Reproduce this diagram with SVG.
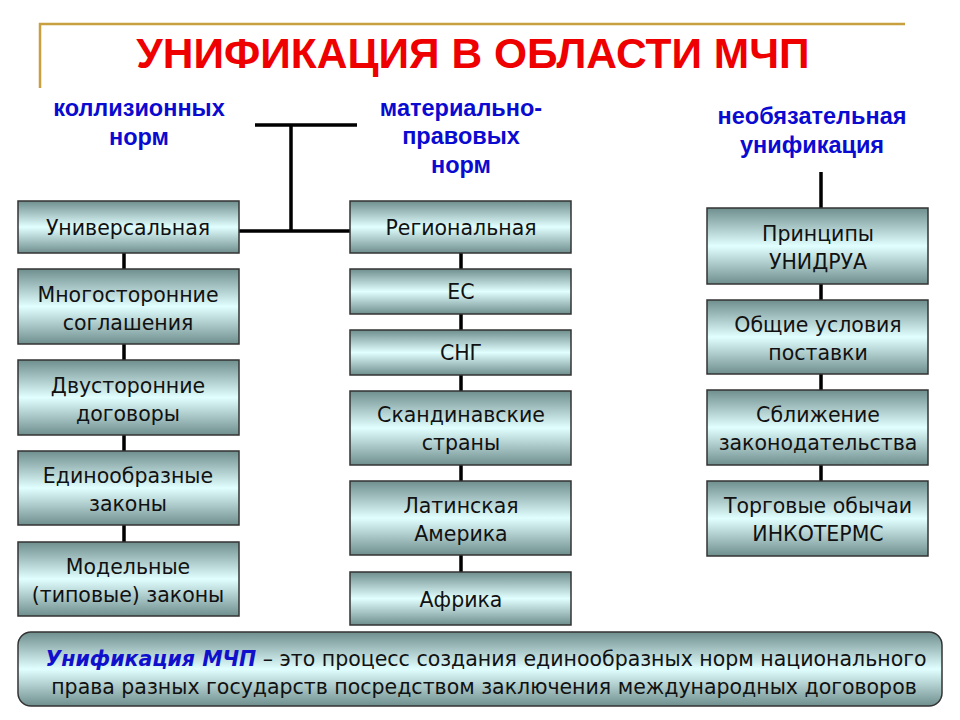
<svg xmlns="http://www.w3.org/2000/svg" width="960" height="720" viewBox="0 0 960 720">
<defs>
<linearGradient id="g" x1="0" y1="0" x2="0" y2="1">
<stop offset="0" stop-color="#6f8e8e"/>
<stop offset="0.5" stop-color="#e2ffff"/>
<stop offset="1" stop-color="#6f8e8e"/>
</linearGradient>
<style>
.box{fill:url(#g);stroke:#333;stroke-width:1.5}
.t{font-family:"DejaVu Sans",Verdana,sans-serif;font-size:20.5px;fill:#111;text-anchor:middle}
.h{font-family:"Liberation Sans",Arial,sans-serif;font-size:23.5px;font-weight:bold;fill:#0a0ad0;text-anchor:middle}
.c{stroke:#000;stroke-width:3.5;fill:none}
</style>
</defs>
<rect width="960" height="720" fill="#fff"/>
<path d="M40,88 V24 H905" fill="none" stroke="#c8a040" stroke-width="2.5"/>
<text x="473" y="68" font-family="Liberation Sans,Arial,sans-serif" font-size="42.5" font-weight="bold" fill="#ee0000" text-anchor="middle">УНИФИКАЦИЯ В ОБЛАСТИ МЧП</text>

<g id="headers">
<text class="h" x="139" y="116">коллизионных</text>
<text class="h" x="139" y="145">норм</text>
<text class="h" x="461" y="116">материально-</text>
<text class="h" x="461" y="144">правовых</text>
<text class="h" x="461" y="173">норм</text>
<text class="h" x="812" y="124">необязательная</text>
<text class="h" x="812" y="153">унификация</text>
</g>

<g id="connectors">
<path class="c" d="M255,125 H357 M291,125 V231 M239,231 H350"/>
<path class="c" d="M124,253 V269 M124,344 V360 M124,435 V451 M124,525 V542"/>
<path class="c" d="M461,253 V269 M461,314 V330 M461,375 V391 M461,465 V481 M461,555 V572"/>
<path class="c" d="M821,172 V208 M821,284 V300 M821,374 V390 M821,465 V481"/>
</g>

<g id="n-universal"><rect class="box" x="18" y="201" width="221" height="52"/><text class="t" x="128" y="235">Универсальная</text></g>
<g id="n-multi"><rect class="box" x="18" y="269" width="221" height="75"/><text class="t" x="128" y="302">Многосторонние</text><text class="t" x="128" y="330">соглашения</text></g>
<g id="n-bi"><rect class="box" x="18" y="360" width="221" height="75"/><text class="t" x="128" y="393">Двусторонние</text><text class="t" x="128" y="421">договоры</text></g>
<g id="n-uniform"><rect class="box" x="18" y="451" width="221" height="74"/><text class="t" x="128" y="483">Единообразные</text><text class="t" x="128" y="511">законы</text></g>
<g id="n-model"><rect class="box" x="18" y="542" width="221" height="74"/><text class="t" x="128" y="574">Модельные</text><text class="t" x="128" y="602">(типовые) законы</text></g>

<g id="n-regional"><rect class="box" x="350" y="201" width="221" height="52"/><text class="t" x="461" y="235">Региональная</text></g>
<g id="n-eu"><rect class="box" x="350" y="269" width="221" height="45"/><text class="t" x="461" y="299">ЕС</text></g>
<g id="n-cis"><rect class="box" x="350" y="330" width="221" height="45"/><text class="t" x="461" y="360">СНГ</text></g>
<g id="n-scand"><rect class="box" x="350" y="391" width="221" height="74"/><text class="t" x="461" y="422">Скандинавские</text><text class="t" x="461" y="450">страны</text></g>
<g id="n-latam"><rect class="box" x="350" y="481" width="221" height="74"/><text class="t" x="461" y="513">Латинская</text><text class="t" x="461" y="541">Америка</text></g>
<g id="n-africa"><rect class="box" x="350" y="572" width="221" height="53"/><text class="t" x="461" y="607">Африка</text></g>

<g id="n-unidroit"><rect class="box" x="707" y="208" width="221" height="76"/><text class="t" x="818" y="241">Принципы</text><text class="t" x="818" y="269">УНИДРУА</text></g>
<g id="n-delivery"><rect class="box" x="707" y="300" width="221" height="74"/><text class="t" x="818" y="332">Общие условия</text><text class="t" x="818" y="360">поставки</text></g>
<g id="n-approx"><rect class="box" x="707" y="390" width="221" height="75"/><text class="t" x="818" y="422">Сближение</text><text class="t" x="818" y="450">законодательства</text></g>
<g id="n-incoterms"><rect class="box" x="707" y="481" width="221" height="75"/><text class="t" x="818" y="513">Торговые обычаи</text><text class="t" x="818" y="541">ИНКОТЕРМС</text></g>

<g id="definition">
<rect class="box" x="18" y="632" width="924" height="74" rx="13" ry="13"/>
<text class="t" x="486" y="666" font-size="21"><tspan font-weight="bold" font-style="italic" fill="#1010cc">Унификация МЧП</tspan> – это процесс создания единообразных норм национального</text>
<text class="t" x="484" y="694" font-size="21">права разных государств посредством заключения международных договоров</text>
</g>
</svg>
